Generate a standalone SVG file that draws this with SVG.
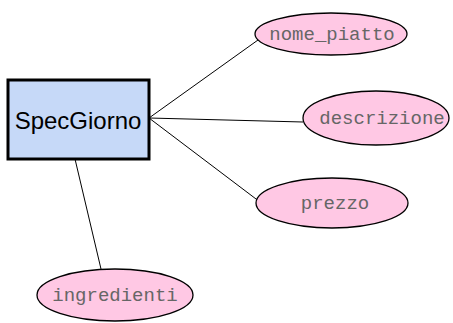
<svg xmlns="http://www.w3.org/2000/svg" width="453" height="323" viewBox="0 0 453 323">
  <style>
    .entity { fill: #c6d9f8; stroke: #000; stroke-width: 3; }
    .entity-label { font-family: "Liberation Sans", Arial, sans-serif; font-size: 24px; fill: #000; text-anchor: middle; }
    .attr { fill: #ffc8e4; stroke: #000; stroke-width: 1.3; }
    .attr-label { font-family: "Liberation Mono", "Courier New", monospace; font-size: 19px; fill: #666; text-anchor: middle; }
    .link { stroke: #000; stroke-width: 1; fill: none; }
  </style>
  <rect width="453" height="323" fill="#fff"/>
  <g id="connectors">
    <line class="link" x1="149" y1="118" x2="258" y2="40"/>
    <line class="link" x1="149" y1="118" x2="303" y2="122"/>
    <line class="link" x1="149" y1="118" x2="260" y2="202"/>
    <line class="link" x1="75" y1="159" x2="101" y2="269"/>
  </g>
  <g id="SpecGiorno">
    <rect class="entity" x="8" y="80" width="141" height="79"/>
    <text class="entity-label" x="78" y="129">SpecGiorno</text>
  </g>
  <g id="nome_piatto">
    <ellipse class="attr" cx="331" cy="34" rx="76" ry="21"/>
    <text class="attr-label" x="332" y="40">nome_piatto</text>
  </g>
  <g id="descrizione">
    <ellipse class="attr" cx="376" cy="118" rx="73" ry="27"/>
    <text class="attr-label" x="382" y="124">descrizione</text>
  </g>
  <g id="prezzo">
    <ellipse class="attr" cx="332" cy="203" rx="76" ry="25"/>
    <text class="attr-label" x="335" y="209">prezzo</text>
  </g>
  <g id="ingredienti">
    <ellipse class="attr" cx="115" cy="295" rx="78" ry="26"/>
    <text class="attr-label" x="115" y="301">ingredienti</text>
  </g>
</svg>
